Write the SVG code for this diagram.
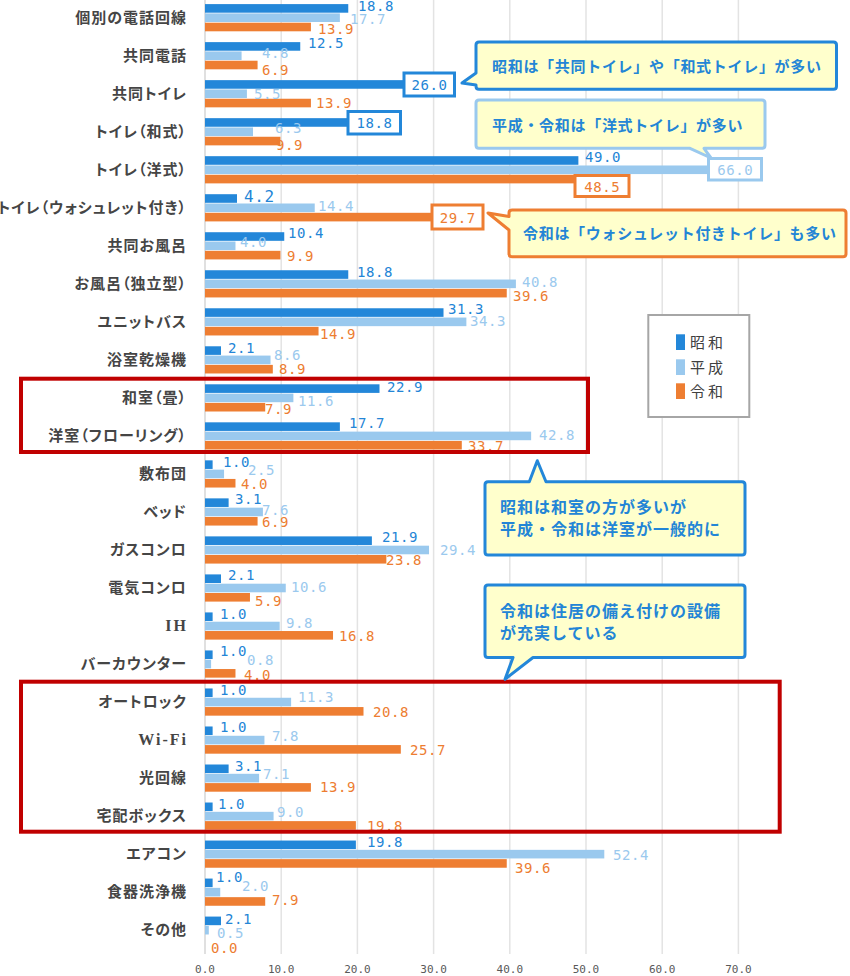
<svg xmlns="http://www.w3.org/2000/svg" width="850" height="976" viewBox="0 0 850 976">
<style>
.cat{font-family:"Noto Sans CJK JP","Noto Sans",sans-serif;font-size:15px;font-weight:bold;fill:#454545;text-anchor:end;letter-spacing:1px;font-feature-settings:"palt"}
.lat{font-family:"Liberation Serif",serif;font-size:16px;font-weight:bold;fill:#454545;text-anchor:end;letter-spacing:2px}
.b1{fill:#2387D9}.b2{fill:#9AC9EE}.b3{fill:#EE7E32}
.v{font-family:"DejaVu Sans Mono",monospace;font-size:14px;letter-spacing:0.6px}
.v1{fill:#2385D6}.v2{fill:#9BC9EE}.v3{fill:#ED7D31}
.grid{stroke:#E3E3E3;stroke-width:1.5}
.tick{font-family:"DejaVu Sans Mono",monospace;font-size:11px;fill:#595959;text-anchor:middle}
.call{fill:#FFFFCC;stroke-width:3;stroke-linejoin:round}
.ct{font-family:"Noto Sans CJK JP","Noto Sans",sans-serif;font-size:15px;font-weight:bold;fill:#2385D6;letter-spacing:0.7px}
.ct2{font-family:"Noto Sans CJK JP","Noto Sans",sans-serif;font-size:16px;font-weight:bold;fill:#2385D6;letter-spacing:1px}
.vbox{fill:#FFFFFF;stroke-width:3}
.red{fill:none;stroke:#C00000;stroke-width:4}
.leg{font-family:"Noto Sans CJK JP","Noto Sans",sans-serif;font-size:15px;fill:#404040;letter-spacing:3px}
</style>
<rect width="850" height="976" fill="#FFFFFF"/>
<g id="axes">
<line class="grid" x1="281.2" y1="0" x2="281.2" y2="954"/>
<line class="grid" x1="357.4" y1="0" x2="357.4" y2="954"/>
<line class="grid" x1="433.6" y1="0" x2="433.6" y2="954"/>
<line class="grid" x1="509.8" y1="0" x2="509.8" y2="954"/>
<line class="grid" x1="586" y1="0" x2="586" y2="954"/>
<line class="grid" x1="662.2" y1="0" x2="662.2" y2="954"/>
<line class="grid" x1="738.4" y1="0" x2="738.4" y2="954"/>
<line x1="205" y1="0" x2="205" y2="954" stroke="#D6D6D6" stroke-width="1.5"/>
<text class="tick" x="205" y="973">0.0</text>
<text class="tick" x="281.2" y="973">10.0</text>
<text class="tick" x="357.4" y="973">20.0</text>
<text class="tick" x="433.6" y="973">30.0</text>
<text class="tick" x="509.8" y="973">40.0</text>
<text class="tick" x="586" y="973">50.0</text>
<text class="tick" x="662.2" y="973">60.0</text>
<text class="tick" x="738.4" y="973">70.0</text>
</g>
<g id="cat-0" transform="translate(0,17.7)">
<text class="cat" x="187" y="5">個別の電話回線</text>
<rect class="b1" x="205" y="-13.6" width="143.26" height="8.6"/><rect class="b2" x="205" y="-4.3" width="134.87" height="8.6"/><rect class="b3" x="205" y="5" width="105.92" height="8.6"/>
<text class="v v1" x="358" y="-7">18.8</text><text class="v v2" x="350" y="6.6">17.7</text><text class="v v3" x="318" y="16.6">13.9</text>
</g>
<g id="cat-1" transform="translate(0,55.72)">
<text class="cat" x="187" y="5">共同電話</text>
<rect class="b1" x="205" y="-13.6" width="95.25" height="8.6"/><rect class="b2" x="205" y="-4.3" width="36.58" height="8.6"/><rect class="b3" x="205" y="5" width="52.58" height="8.6"/>
<text class="v v1" x="308" y="-7.4">12.5</text><text class="v v2" x="262" y="2">4.8</text><text class="v v3" x="262" y="19.3">6.9</text>
</g>
<g id="cat-2" transform="translate(0,93.74)">
<text class="cat" x="187" y="5">共同トイレ</text>
<rect class="b1" x="205" y="-13.6" width="198.12" height="8.6"/><rect class="b2" x="205" y="-4.3" width="41.91" height="8.6"/><rect class="b3" x="205" y="5" width="105.92" height="8.6"/>
<text class="v v2" x="254" y="5.6">5.5</text><text class="v v3" x="316" y="14.6">13.9</text>
</g>
<g id="cat-3" transform="translate(0,131.76)">
<text class="cat" x="187" y="5">トイレ（和式）</text>
<rect class="b1" x="205" y="-13.6" width="143.26" height="8.6"/><rect class="b2" x="205" y="-4.3" width="48.01" height="8.6"/><rect class="b3" x="205" y="5" width="75.44" height="8.6"/>
<text class="v v2" x="275" y="1.2">6.3</text><text class="v v3" x="276" y="18.2">9.9</text>
</g>
<g id="cat-4" transform="translate(0,169.78)">
<text class="cat" x="187" y="5">トイレ（洋式）</text>
<rect class="b1" x="205" y="-13.6" width="373.38" height="8.6"/><rect class="b2" x="205" y="-4.3" width="502.92" height="8.6"/><rect class="b3" x="205" y="5" width="369.57" height="8.6"/>
<text class="v v1" x="585" y="-8.1">49.0</text>
</g>
<g id="cat-5" transform="translate(0,207.8)">
<text class="cat" x="187" y="5">トイレ（ウォシュレット付き）</text>
<rect class="b1" x="205" y="-13.6" width="32" height="8.6"/><rect class="b2" x="205" y="-4.3" width="109.73" height="8.6"/><rect class="b3" x="205" y="5" width="226.31" height="8.6"/>
<text class="v v1" x="244" y="-6.3" style="font-size:16px">4.2</text><text class="v v2" x="318" y="3.2">14.4</text>
</g>
<g id="cat-6" transform="translate(0,245.82)">
<text class="cat" x="187" y="5">共同お風呂</text>
<rect class="b1" x="205" y="-13.6" width="79.25" height="8.6"/><rect class="b2" x="205" y="-4.3" width="30.48" height="8.6"/><rect class="b3" x="205" y="5" width="75.44" height="8.6"/>
<text class="v v1" x="288" y="-7.8">10.4</text><text class="v v2" x="240" y="1.2">4.0</text><text class="v v3" x="287" y="15.2">9.9</text>
</g>
<g id="cat-7" transform="translate(0,283.84)">
<text class="cat" x="187" y="5">お風呂（独立型）</text>
<rect class="b1" x="205" y="-13.6" width="143.26" height="8.6"/><rect class="b2" x="205" y="-4.3" width="310.9" height="8.6"/><rect class="b3" x="205" y="5" width="301.75" height="8.6"/>
<text class="v v1" x="357" y="-6.8">18.8</text><text class="v v2" x="522" y="3.2">40.8</text><text class="v v3" x="513" y="17.2">39.6</text>
</g>
<g id="cat-8" transform="translate(0,321.86)">
<text class="cat" x="187" y="5">ユニットバス</text>
<rect class="b1" x="205" y="-13.6" width="238.51" height="8.6"/><rect class="b2" x="205" y="-4.3" width="261.37" height="8.6"/><rect class="b3" x="205" y="5" width="113.54" height="8.6"/>
<text class="v v1" x="448" y="-7.4">31.3</text><text class="v v2" x="470" y="4.1">34.3</text><text class="v v3" x="320" y="17.1">14.9</text>
</g>
<g id="cat-9" transform="translate(0,359.88)">
<text class="cat" x="187" y="5">浴室乾燥機</text>
<rect class="b1" x="205" y="-13.6" width="16" height="8.6"/><rect class="b2" x="205" y="-4.3" width="65.53" height="8.6"/><rect class="b3" x="205" y="5" width="67.82" height="8.6"/>
<text class="v v1" x="228" y="-6.9">2.1</text><text class="v v2" x="274" y="0.1">8.6</text><text class="v v3" x="279" y="14.1">8.9</text>
</g>
<g id="cat-10" transform="translate(0,397.9)">
<text class="cat" x="187" y="5">和室（畳）</text>
<rect class="b1" x="205" y="-13.6" width="174.5" height="8.6"/><rect class="b2" x="205" y="-4.3" width="88.39" height="8.6"/><rect class="b3" x="205" y="5" width="60.2" height="8.6"/>
<text class="v v1" x="387" y="-5.9">22.9</text><text class="v v2" x="298" y="8.1">11.6</text><text class="v v3" x="265" y="16.1">7.9</text>
</g>
<g id="cat-11" transform="translate(0,435.92)">
<text class="cat" x="187" y="5">洋室（フローリング）</text>
<rect class="b1" x="205" y="-13.6" width="134.87" height="8.6"/><rect class="b2" x="205" y="-4.3" width="326.14" height="8.6"/><rect class="b3" x="205" y="5" width="256.79" height="8.6"/>
<text class="v v1" x="349" y="-7.9">17.7</text><text class="v v2" x="539" y="4.1">42.8</text><text class="v v3" x="468" y="15.1">33.7</text>
</g>
<g id="cat-12" transform="translate(0,473.94)">
<text class="cat" x="187" y="5">敷布団</text>
<rect class="b1" x="205" y="-13.6" width="7.62" height="8.6"/><rect class="b2" x="205" y="-4.3" width="19.05" height="8.6"/><rect class="b3" x="205" y="5" width="30.48" height="8.6"/>
<text class="v v1" x="223" y="-6.9">1.0</text><text class="v v2" x="248" y="1.1">2.5</text><text class="v v3" x="241" y="15.1">4.0</text>
</g>
<g id="cat-13" transform="translate(0,511.96)">
<text class="cat" x="187" y="5">ベッド</text>
<rect class="b1" x="205" y="-13.6" width="23.62" height="8.6"/><rect class="b2" x="205" y="-4.3" width="57.91" height="8.6"/><rect class="b3" x="205" y="5" width="52.58" height="8.6"/>
<text class="v v1" x="235" y="-8">3.1</text><text class="v v2" x="262" y="3">7.6</text><text class="v v3" x="262" y="15">6.9</text>
</g>
<g id="cat-14" transform="translate(0,549.98)">
<text class="cat" x="187" y="5">ガスコンロ</text>
<rect class="b1" x="205" y="-13.6" width="166.88" height="8.6"/><rect class="b2" x="205" y="-4.3" width="224.03" height="8.6"/><rect class="b3" x="205" y="5" width="181.36" height="8.6"/>
<text class="v v1" x="382" y="-8">21.9</text><text class="v v2" x="440" y="5">29.4</text><text class="v v3" x="386" y="15.5">23.8</text>
</g>
<g id="cat-15" transform="translate(0,588)">
<text class="cat" x="187" y="5">電気コンロ</text>
<rect class="b1" x="205" y="-13.6" width="16" height="8.6"/><rect class="b2" x="205" y="-4.3" width="80.77" height="8.6"/><rect class="b3" x="205" y="5" width="44.96" height="8.6"/>
<text class="v v1" x="228" y="-8">2.1</text><text class="v v2" x="291" y="4">10.6</text><text class="v v3" x="255" y="18">5.9</text>
</g>
<g id="cat-16" transform="translate(0,626.02)">
<text class="lat" x="188" y="5">IH</text>
<rect class="b1" x="205" y="-13.6" width="7.62" height="8.6"/><rect class="b2" x="205" y="-4.3" width="74.68" height="8.6"/><rect class="b3" x="205" y="5" width="128.02" height="8.6"/>
<text class="v v1" x="220" y="-7">1.0</text><text class="v v2" x="286" y="2">9.8</text><text class="v v3" x="339" y="15">16.8</text>
</g>
<g id="cat-17" transform="translate(0,664.04)">
<text class="cat" x="187" y="5">バーカウンター</text>
<rect class="b1" x="205" y="-13.6" width="7.62" height="8.6"/><rect class="b2" x="205" y="-4.3" width="6.1" height="8.6"/><rect class="b3" x="205" y="5" width="30.48" height="8.6"/>
<text class="v v1" x="220" y="-8">1.0</text><text class="v v2" x="247" y="1">0.8</text><text class="v v3" x="244" y="15.5">4.0</text>
</g>
<g id="cat-18" transform="translate(0,702.06)">
<text class="cat" x="187" y="5">オートロック</text>
<rect class="b1" x="205" y="-13.6" width="7.62" height="8.6"/><rect class="b2" x="205" y="-4.3" width="86.11" height="8.6"/><rect class="b3" x="205" y="5" width="158.5" height="8.6"/>
<text class="v v1" x="220" y="-7">1.0</text><text class="v v2" x="298" y="0">11.3</text><text class="v v3" x="373" y="15">20.8</text>
</g>
<g id="cat-19" transform="translate(0,740.08)">
<text class="lat" x="188" y="5">Wi-Fi</text>
<rect class="b1" x="205" y="-13.6" width="7.62" height="8.6"/><rect class="b2" x="205" y="-4.3" width="59.44" height="8.6"/><rect class="b3" x="205" y="5" width="195.83" height="8.6"/>
<text class="v v1" x="220" y="-8">1.0</text><text class="v v2" x="272" y="1">7.8</text><text class="v v3" x="410" y="15">25.7</text>
</g>
<g id="cat-20" transform="translate(0,778.1)">
<text class="cat" x="187" y="5">光回線</text>
<rect class="b1" x="205" y="-13.6" width="23.62" height="8.6"/><rect class="b2" x="205" y="-4.3" width="54.1" height="8.6"/><rect class="b3" x="205" y="5" width="105.92" height="8.6"/>
<text class="v v1" x="235" y="-7">3.1</text><text class="v v2" x="263" y="1">7.1</text><text class="v v3" x="320" y="14">13.9</text>
</g>
<g id="cat-21" transform="translate(0,816.12)">
<text class="cat" x="187" y="5">宅配ボックス</text>
<rect class="b1" x="205" y="-13.6" width="7.62" height="8.6"/><rect class="b2" x="205" y="-4.3" width="68.58" height="8.6"/><rect class="b3" x="205" y="5" width="150.88" height="8.6"/>
<text class="v v1" x="218" y="-7">1.0</text><text class="v v2" x="277" y="1">9.0</text><text class="v v3" x="367" y="15">19.8</text>
</g>
<g id="cat-22" transform="translate(0,854.14)">
<text class="cat" x="187" y="5">エアコン</text>
<rect class="b1" x="205" y="-13.6" width="150.88" height="8.6"/><rect class="b2" x="205" y="-4.3" width="399.29" height="8.6"/><rect class="b3" x="205" y="5" width="301.75" height="8.6"/>
<text class="v v1" x="367" y="-7">19.8</text><text class="v v2" x="613" y="6">52.4</text><text class="v v3" x="515" y="19">39.6</text>
</g>
<g id="cat-23" transform="translate(0,892.16)">
<text class="cat" x="187" y="5">食器洗浄機</text>
<rect class="b1" x="205" y="-13.6" width="7.62" height="8.6"/><rect class="b2" x="205" y="-4.3" width="15.24" height="8.6"/><rect class="b3" x="205" y="5" width="60.2" height="8.6"/>
<text class="v v1" x="216" y="-10">1.0</text><text class="v v2" x="242" y="-1">2.0</text><text class="v v3" x="272" y="13">7.9</text>
</g>
<g id="cat-24" transform="translate(0,930.18)">
<text class="cat" x="187" y="5">その他</text>
<rect class="b1" x="205" y="-13.6" width="16" height="8.6"/><rect class="b2" x="205" y="-4.3" width="3.81" height="8.6"/>
<text class="v v1" x="225" y="-6">2.1</text><text class="v v2" x="217" y="8">0.5</text><text class="v v3" x="211" y="22.5">0.0</text>
</g>
<g id="value-boxes">
<rect class="vbox" x="404" y="73" width="50.5" height="23" stroke="#2387D9"/>
<text class="v v1" x="429.5" y="90" text-anchor="middle">26.0</text>
<rect class="vbox" x="348" y="111.5" width="52.5" height="22.5" stroke="#2387D9"/>
<text class="v v1" x="374.5" y="128.3" text-anchor="middle">18.8</text>
<rect class="vbox" x="708.5" y="158.5" width="53" height="21.5" stroke="#9AC9EE"/>
<text class="v v2" x="735.3" y="174.8" text-anchor="middle">66.0</text>
<rect class="vbox" x="575" y="175.5" width="54" height="21" stroke="#EE7E32"/>
<text class="v v3" x="602.3" y="191.5" text-anchor="middle">48.5</text>
<rect class="vbox" x="432" y="205" width="51" height="24" stroke="#EE7E32"/>
<text class="v v3" x="457.8" y="222.5" text-anchor="middle">29.7</text>
</g>
<g id="highlight-boxes">
<rect class="red" x="21" y="378.7" width="567" height="73.3"/>
<rect class="red" x="21" y="681.7" width="758.7" height="150"/>
</g>
<g id="legend">
<rect x="648.3" y="315" width="101" height="102" fill="#FFFFFF" stroke="#A6A6A6" stroke-width="2"/>
<rect class="b1" x="676" y="334.3" width="9" height="15.7"/>
<rect class="b2" x="676" y="359.3" width="9" height="15.7"/>
<rect class="b3" x="676" y="383.3" width="9" height="15.7"/>
<text class="leg" x="690" y="348">昭和</text>
<text class="leg" x="690" y="372.5">平成</text>
<text class="leg" x="690" y="396.5">令和</text>
</g>
<g id="callout-1">
<path class="call" stroke="#2387D9" d="M479,42 H833.5 Q836.5,42 836.5,45 V86.3 Q836.5,89.3 833.5,89.3 H479 Q476,89.3 476,86.3 V85 L462,83 L476,73 V45 Q476,42 479,42 Z"/>
<text class="ct" x="492" y="72">昭和は「共同トイレ」や「和式トイレ」が多い</text>
</g>
<g id="callout-2">
<path class="call" stroke="#9AC9EE" d="M479,100 H762 Q765,100 765,103 V145.3 Q765,148.3 762,148.3 H704 L711,158 L690,148.3 H479 Q476,148.3 476,145.3 V103 Q476,100 479,100 Z"/>
<text class="ct" x="492" y="130.5">平成・令和は「洋式トイレ」が多い</text>
</g>
<g id="callout-3">
<path class="call" stroke="#EE7E32" d="M512,210 H843 Q846,210 846,213 V253.7 Q846,256.7 843,256.7 H512 Q509,256.7 509,253.7 V230 L488,213 L509,216.5 V213 Q509,210 512,210 Z"/>
<text class="ct" x="523" y="239">令和は「ウォシュレット付きトイレ」も多い</text>
</g>
<g id="callout-4">
<path class="call" stroke="#2387D9" d="M488,481.7 H529.3 L537.3,460.7 L546,481.7 H742 Q745,481.7 745,484.7 V552 Q745,555 742,555 H488 Q485,555 485,552 V484.7 Q485,481.7 488,481.7 Z"/>
<text class="ct2" x="500" y="512.5">昭和は和室の方が多いが</text>
<text class="ct2" x="500" y="535.3">平成・令和は洋室が一般的に</text>
</g>
<g id="callout-5">
<path class="call" stroke="#2387D9" d="M488,585 H742 Q745,585 745,588 V654.5 Q745,657.5 742,657.5 H533 L505,679.3 L513,657.5 H488 Q485,657.5 485,654.5 V588 Q485,585 488,585 Z"/>
<text class="ct2" x="500" y="616.7">令和は住居の備え付けの設備</text>
<text class="ct2" x="500" y="638.7">が充実している</text>
</g>
</svg>
